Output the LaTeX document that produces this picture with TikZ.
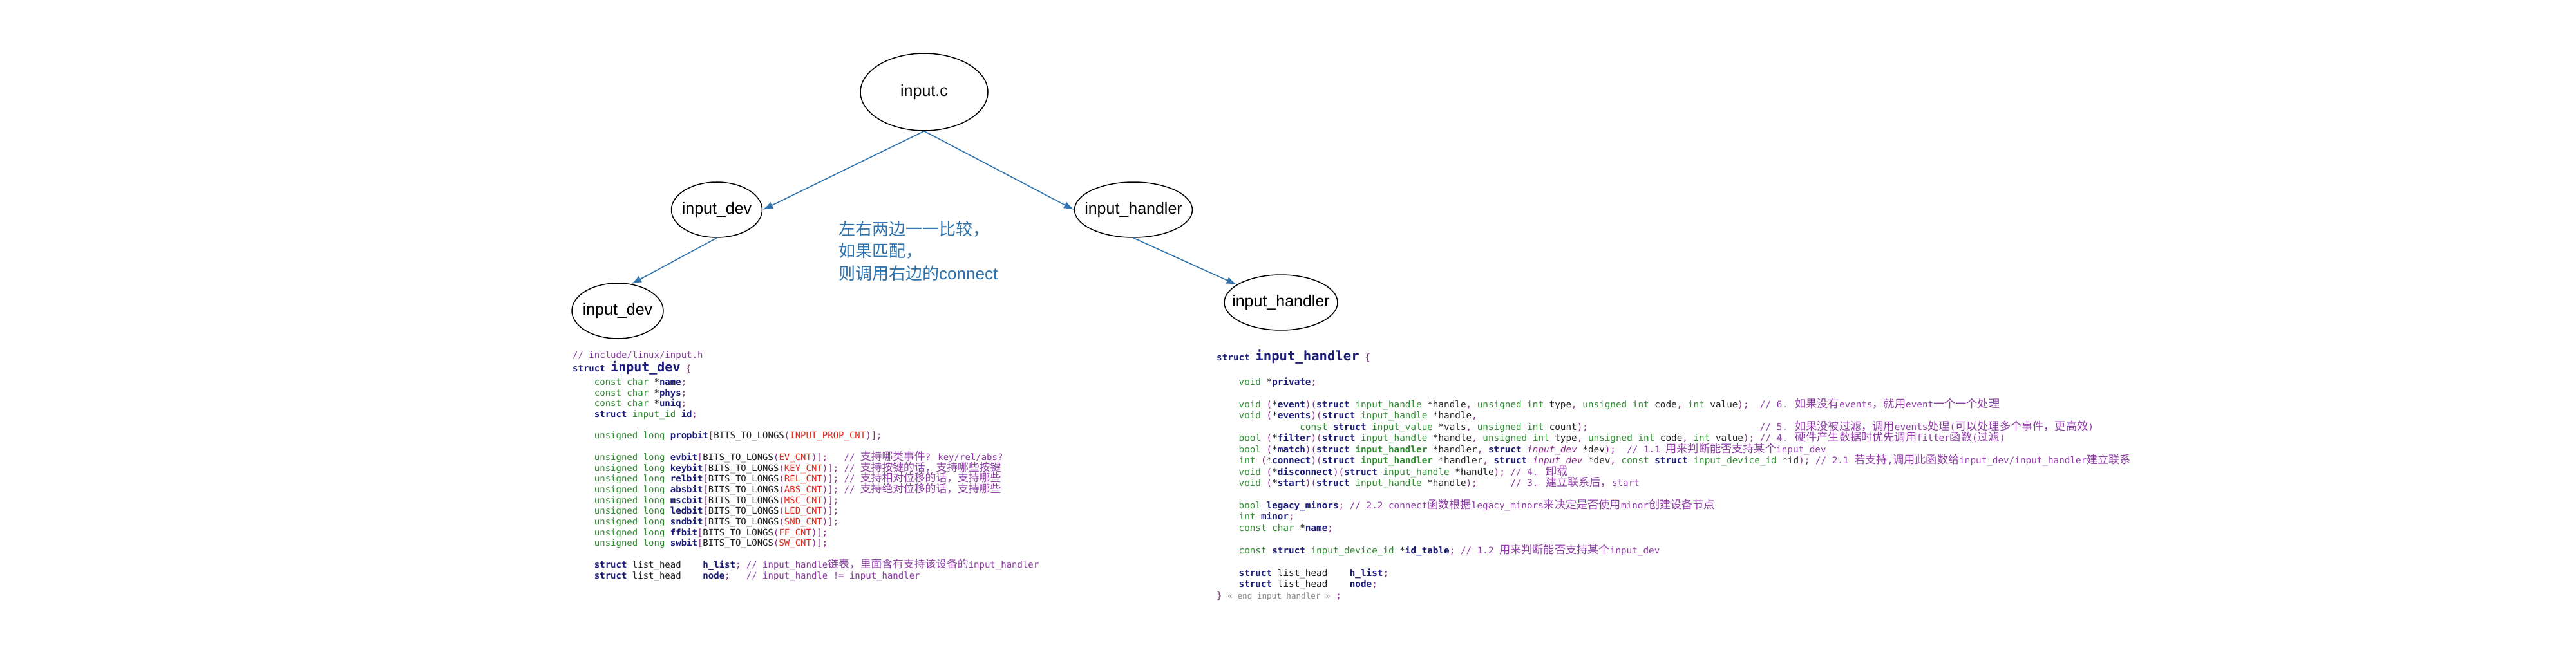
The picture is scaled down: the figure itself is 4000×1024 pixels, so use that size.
\documentclass[tikz,border=0pt]{standalone}
\usepackage{fontspec}
\setmainfont{Liberation Sans}
\newfontfamily\codefont{DejaVu Sans Mono}
\newfontfamily\cjk{Noto Sans CJK SC}
\newfontfamily\cjkcode[Scale=1.2]{Noto Sans CJK SC}
\definecolor{linkblue}{HTML}{2E73AE}
\definecolor{cdink}{HTML}{202020}
\definecolor{cdnavy}{HTML}{1B1B7A}
\definecolor{cdgreen}{HTML}{2E8B30}
\definecolor{cdpunct}{HTML}{8A2B8A}
\definecolor{cdcomment}{HTML}{8E3BA6}
\definecolor{cdred}{HTML}{E52B20}
\definecolor{cdgray}{HTML}{8A8A8A}
\usetikzlibrary{positioning, arrows.meta, shapes.geometric}

\newcommand{\zh}[1]{{\cjkcode #1}}
\newcommand{\ckw}[1]{\textcolor{cdnavy}{\bfseries #1}}
\newcommand{\cty}[1]{\textcolor{cdgreen}{#1}}
\newcommand{\ctyb}[1]{\textcolor{cdgreen}{\bfseries #1}}
\newcommand{\cpn}[1]{\textcolor{cdpunct}{#1}}
\newcommand{\ccm}[1]{\textcolor{cdcomment}{#1}}
\newcommand{\cred}[1]{\textcolor{cdred}{#1}}
\newcommand{\cmac}[1]{\textcolor{cdpunct}{\itshape #1}}
\newcommand{\bubbletext}[1]{\makebox[0pt]{#1}}
\newcommand{\fixedlines}{\lineskiplimit=-30pt\relax}

\begin{document}
\begin{tikzpicture}[x=1pt, y=-1pt,
    bubble/.style={ellipse, draw=black, line width=1.5pt, inner sep=0pt, font=\fontsize{25}{25}\selectfont},
    link/.style={-{Latex[length=16pt, width=11pt]}, draw=linkblue, line width=1.6pt},
    code/.style={inner sep=0pt, align=left, text=cdink}]
  \useasboundingbox[fill=white] (0,0) rectangle (4000,1024);

  \node[bubble, minimum width=198pt, minimum height=120pt] (ic) at (1435,143) {\bubbletext{input.c}};
  \node[bubble, minimum width=141pt, minimum height=86pt] (dm) at (1113,326) {\bubbletext{input\_dev}};
  \node[bubble, minimum width=183pt, minimum height=86pt] (hm) at (1760,326) {\bubbletext{input\_handler}};
  \node[bubble, minimum width=142pt, minimum height=86pt] (dl) at (959,483) {\bubbletext{input\_dev}};
  \node[bubble, minimum width=176pt, minimum height=86pt] (hl) at (1989,470) {\bubbletext{input\_handler}};

  \draw[link] (ic.south) -- (dm.east);
  \draw[link] (ic.south) -- (hm.west);
  \draw[link] (dm.south) -- (dl.63);
  \draw[link] (hm.south) -- (hl.158);

  \node[align=left, anchor=west, text=linkblue, inner sep=0pt, font=\fontsize{26}{34.5}\selectfont] (note) at (1302,390)
    {{\cjk 左右两边一一比较，}\\ {\cjk 如果匹配，}\\ {\cjk 则调用右边的}connect};

  % include/linux/input.h
  \node[code, anchor=base west, font=\codefont\fontsize{14}{16.7}\selectfont\fixedlines] (devcode) at (889,899) {%
\ccm{// include/linux/input.h}\\[4.5pt]
\ckw{struct} {\fontsize{20}{20}\selectfont\ckw{input\_dev}} \cpn{\{}\\[4.5pt]
~~~~\cty{const char} *\ckw{name}\cpn{;}\\
~~~~\cty{const char} *\ckw{phys}\cpn{;}\\
~~~~\cty{const char} *\ckw{uniq}\cpn{;}\\
~~~~\ckw{struct} \cty{input\_id} \ckw{id}\cpn{;}\\
~\\
~~~~\cty{unsigned long} \ckw{propbit}\cpn{[}BITS\_TO\_LONGS\cpn{(}\cred{INPUT\_PROP\_CNT}\cpn{)];}\\
~\\
~~~~\cty{unsigned long} \ckw{evbit}\cpn{[}BITS\_TO\_LONGS\cpn{(}\cred{EV\_CNT}\cpn{)];}~~~\ccm{// \zh{支持哪类事件}? key/rel/abs?}\\
~~~~\cty{unsigned long} \ckw{keybit}\cpn{[}BITS\_TO\_LONGS\cpn{(}\cred{KEY\_CNT}\cpn{)];}~\ccm{// \zh{支持按键的话，支持哪些按键}}\\
~~~~\cty{unsigned long} \ckw{relbit}\cpn{[}BITS\_TO\_LONGS\cpn{(}\cred{REL\_CNT}\cpn{)];}~\ccm{// \zh{支持相对位移的话，支持哪些}}\\
~~~~\cty{unsigned long} \ckw{absbit}\cpn{[}BITS\_TO\_LONGS\cpn{(}\cred{ABS\_CNT}\cpn{)];}~\ccm{// \zh{支持绝对位移的话，支持哪些}}\\
~~~~\cty{unsigned long} \ckw{mscbit}\cpn{[}BITS\_TO\_LONGS\cpn{(}\cred{MSC\_CNT}\cpn{)];}\\
~~~~\cty{unsigned long} \ckw{ledbit}\cpn{[}BITS\_TO\_LONGS\cpn{(}\cred{LED\_CNT}\cpn{)];}\\
~~~~\cty{unsigned long} \ckw{sndbit}\cpn{[}BITS\_TO\_LONGS\cpn{(}\cred{SND\_CNT}\cpn{)];}\\
~~~~\cty{unsigned long} \ckw{ffbit}\cpn{[}BITS\_TO\_LONGS\cpn{(}\cred{FF\_CNT}\cpn{)];}\\
~~~~\cty{unsigned long} \ckw{swbit}\cpn{[}BITS\_TO\_LONGS\cpn{(}\cred{SW\_CNT}\cpn{)];}\\
~\\
~~~~\ckw{struct} list\_head~~~~\ckw{h\_list}\cpn{;}~\ccm{// input\_handle\zh{链表，里面含有支持该设备的}input\_handler}\\
~~~~\ckw{struct} list\_head~~~~\ckw{node}\cpn{;}~~~\ccm{// input\_handle != input\_handler}};

  \node[code, anchor=base west, font=\codefont\fontsize{14.3}{17.44}\selectfont\fixedlines] (handlercode) at (1889,930) {%
\ckw{struct} {\fontsize{20.6}{20.6}\selectfont\ckw{input\_handler}} \cpn{\{}\\[3pt]
~\\
~~~~\cty{void} *\ckw{private}\cpn{;}\\
~\\
~~~~\cty{void} \cpn{(}*\ckw{event}\cpn{)(}\ckw{struct} \cty{input\_handle} *handle\cpn{,} \cty{unsigned int} type\cpn{,} \cty{unsigned int} code\cpn{,} \cty{int} value\cpn{);}~~\ccm{// 6. \zh{如果没有}events\zh{，就用}event\zh{一个一个处理}}\\
~~~~\cty{void} \cpn{(}*\ckw{events}\cpn{)(}\ckw{struct} \cty{input\_handle} *handle\cpn{,}\\
~~~~~~~~~~~~~~~\cty{const} \ckw{struct} \cty{input\_value} *vals\cpn{,} \cty{unsigned int} count\cpn{);}~~~~~~~~~~~~~~~~~~~~~~~~~~~~~~~\ccm{// 5. \zh{如果没被过滤，调用}events\zh{处理}(\zh{可以处理多个事件，更高效})}\\
~~~~\cty{bool} \cpn{(}*\ckw{filter}\cpn{)(}\ckw{struct} \cty{input\_handle} *handle\cpn{,} \cty{unsigned int} type\cpn{,} \cty{unsigned int} code\cpn{,} \cty{int} value\cpn{);}~\ccm{// 4. \zh{硬件产生数据时优先调用}filter\zh{函数}(\zh{过滤})}\\
~~~~\cty{bool} \cpn{(}*\ckw{match}\cpn{)(}\ckw{struct} \ctyb{input\_handler} *handler\cpn{,} \ckw{struct} \cmac{input\_dev} *dev\cpn{);}~~\ccm{// 1.1 \zh{用来判断能否支持某个}input\_dev}\\
~~~~\cty{int} \cpn{(}*\ckw{connect}\cpn{)(}\ckw{struct} \ctyb{input\_handler} *handler\cpn{,} \ckw{struct} \cmac{input\_dev} *dev\cpn{,} \cty{const} \ckw{struct} \cty{input\_device\_id} *id\cpn{);}~\ccm{// 2.1 \zh{若支持},\zh{调用此函数给}input\_dev/input\_handler\zh{建立联系}}\\
~~~~\cty{void} \cpn{(}*\ckw{disconnect}\cpn{)(}\ckw{struct} \cty{input\_handle} *handle\cpn{);}~\ccm{// 4. \zh{卸载}}\\
~~~~\cty{void} \cpn{(}*\ckw{start}\cpn{)(}\ckw{struct} \cty{input\_handle} *handle\cpn{);}~~~~~~\ccm{// 3. \zh{建立联系后，}start}\\
~\\
~~~~\cty{bool} \ckw{legacy\_minors}\cpn{;}~\ccm{// 2.2 connect\zh{函数根据}legacy\_minors\zh{来决定是否使用}minor\zh{创建设备节点}}\\
~~~~\cty{int} \ckw{minor}\cpn{;}\\
~~~~\cty{const char} *\ckw{name}\cpn{;}\\
~\\
~~~~\cty{const} \ckw{struct} \cty{input\_device\_id} *\ckw{id\_table}\cpn{;}~\ccm{// 1.2 \zh{用来判断能否支持某个}input\_dev}\\
~\\
~~~~\ckw{struct} list\_head~~~~\ckw{h\_list}\cpn{;}\\
~~~~\ckw{struct} list\_head~~~~\ckw{node}\cpn{;}\\
\cpn{\}} {\fontsize{12.6}{12.6}\selectfont\textcolor{cdgray}{« end input\_handler »}} \cpn{;}};
\end{tikzpicture}
\end{document}
